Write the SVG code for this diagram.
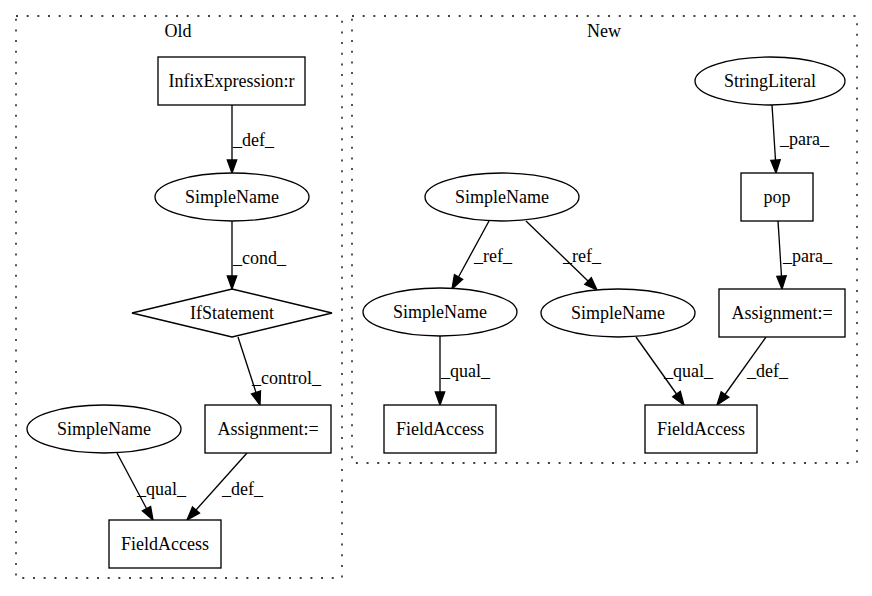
<svg xmlns="http://www.w3.org/2000/svg" width="872" height="596" viewBox="0 0 872 596">
<style>
text{font-family:'Liberation Serif','DejaVu Serif','Times New Roman',Times,serif;font-size:18px;fill:#000}
.n{text-anchor:middle}
.shape{fill:#fff;stroke:#000;stroke-width:1.33}
.cl{fill:none;stroke:#000;stroke-width:1.33;stroke-dasharray:2 8.67}
.e line{stroke:#000;stroke-width:1.33}
.e polygon{fill:#000;stroke:#000;stroke-width:1.33}
</style>
<rect width="872" height="596" fill="#fff"/>
<g font-family="Liberation Serif, DejaVu Serif, serif" font-size="18">
<g id="cluster_old">
<rect class="cl" x="16" y="16" width="326" height="562"/>
<text class="n" x="178" y="37">Old</text>
</g>
<g id="cluster_new">
<rect class="cl" x="352" y="16" width="505" height="447"/>
<text class="n" x="604" y="37">New</text>
</g>
<g id="connectors" class="e">
<line x1="232" y1="105" x2="232" y2="160"/><polygon points="227.3,160 236.7,160 232,173"/>
<text x="233" y="146">_def_</text>
<line x1="232" y1="221" x2="232" y2="276"/><polygon points="227.3,276 236.7,276 232,289"/>
<text x="233" y="264">_cond_</text>
<line x1="238" y1="337" x2="256" y2="392.5"/><polygon points="251.6,394 260.5,391 260,405"/>
<text x="252" y="384">_control_</text>
<line x1="117" y1="453" x2="146.5" y2="508.5"/><polygon points="142.4,510.8 150.6,506.4 153,520"/>
<text x="137" y="495">_qual_</text>
<line x1="247" y1="453" x2="196" y2="510"/><polygon points="192.5,506.9 199.5,513.1 187,520"/>
<text x="222" y="495">_def_</text>
<line x1="772" y1="105" x2="775.5" y2="160"/><polygon points="770.8,160.3 780.2,159.7 776,173"/>
<text x="780" y="145">_para_</text>
<line x1="778" y1="221" x2="781.5" y2="276"/><polygon points="776.8,276.3 786.2,275.7 782,289"/>
<text x="783" y="262">_para_</text>
<line x1="489" y1="221" x2="458.5" y2="277"/><polygon points="454.4,274.7 462.6,279.3 452,289"/>
<text x="474" y="262">_ref_</text>
<line x1="526" y1="221" x2="588" y2="281"/><polygon points="584.7,284.4 591.3,277.6 597,290"/>
<text x="563" y="262">_ref_</text>
<line x1="440" y1="336" x2="440" y2="392"/><polygon points="435.3,392 444.7,392 440,405"/>
<text x="441" y="377">_qual_</text>
<line x1="636" y1="337" x2="676.5" y2="394"/><polygon points="672.7,396.7 680.3,391.3 684,405"/>
<text x="664" y="377">_qual_</text>
<line x1="766" y1="337" x2="725" y2="394.5"/><polygon points="721.2,391.8 728.8,397.2 717,405"/>
<text x="747" y="377">_def_</text>
</g>
<g id="old_infix">
<rect class="shape" x="158" y="57" width="147" height="48"/>
<text class="n" x="231.5" y="87">InfixExpression:r</text>
</g>
<g id="old_simplename_top">
<ellipse class="shape" cx="232" cy="197" rx="77" ry="24"/>
<text class="n" x="232" y="203">SimpleName</text>
</g>
<g id="old_ifstatement">
<polygon class="shape" points="232,289 332,313 232,337 132,313"/>
<text class="n" x="232" y="319">IfStatement</text>
</g>
<g id="old_assignment">
<rect class="shape" x="205" y="405" width="126" height="48"/>
<text class="n" x="268" y="435">Assignment:=</text>
</g>
<g id="old_simplename_left">
<ellipse class="shape" cx="104" cy="429" rx="77" ry="24"/>
<text class="n" x="104" y="435">SimpleName</text>
</g>
<g id="old_fieldaccess">
<rect class="shape" x="109" y="520" width="112" height="48"/>
<text class="n" x="165" y="550">FieldAccess</text>
</g>
<g id="new_stringliteral">
<ellipse class="shape" cx="770" cy="81" rx="75" ry="24"/>
<text class="n" x="770" y="87">StringLiteral</text>
</g>
<g id="new_pop">
<rect class="shape" x="741" y="173" width="72" height="48"/>
<text class="n" x="777" y="203">pop</text>
</g>
<g id="new_simplename_top">
<ellipse class="shape" cx="502" cy="197" rx="77" ry="24"/>
<text class="n" x="502" y="203">SimpleName</text>
</g>
<g id="new_simplename_left">
<ellipse class="shape" cx="440" cy="312" rx="77" ry="24"/>
<text class="n" x="440" y="318">SimpleName</text>
</g>
<g id="new_simplename_mid">
<ellipse class="shape" cx="618" cy="313" rx="77" ry="24"/>
<text class="n" x="618" y="319">SimpleName</text>
</g>
<g id="new_assignment">
<rect class="shape" x="719" y="289" width="126" height="48"/>
<text class="n" x="782" y="319">Assignment:=</text>
</g>
<g id="new_fieldaccess_left">
<rect class="shape" x="384" y="405" width="112" height="48"/>
<text class="n" x="440" y="435">FieldAccess</text>
</g>
<g id="new_fieldaccess_right">
<rect class="shape" x="645" y="405" width="112" height="48"/>
<text class="n" x="701" y="435">FieldAccess</text>
</g>
</g>
</svg>
